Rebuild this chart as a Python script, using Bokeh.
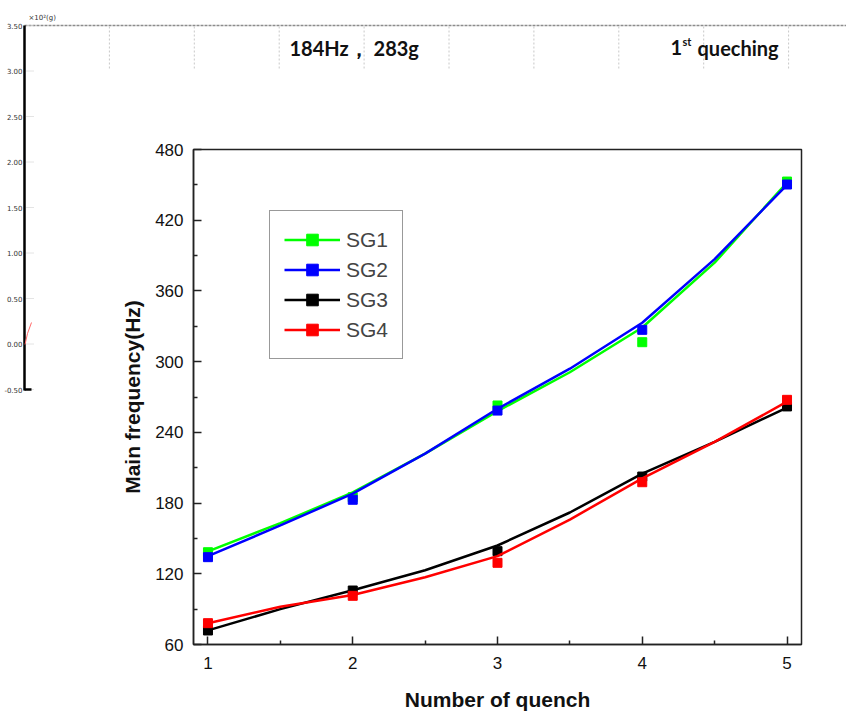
from bokeh.plotting import figure
from bokeh.models import Range1d, Legend, LegendItem, FixedTicker
from bokeh.core.properties import value
from bokeh.embed import file_html
from bokeh.resources import INLINE

# ---------------- data ----------------
quench = [1, 2, 3, 4, 5]
sg1 = [138.3, 185.0, 262.8, 316.5, 452.8]
sg2 = [134.1, 182.8, 258.5, 327.0, 450.3]
sg3 = [71.9, 105.8, 139.2, 202.5, 262.0]
sg4 = [78.1, 101.3, 129.3, 197.7, 267.6]

# fitted curves
quench_fit = [1, 1.5, 2, 2.5, 3, 3.5, 4, 4.5, 5]
sg1_fit = [139, 163, 189, 222, 258, 291, 329, 384, 452]
sg2_fit = [135, 161, 188, 222, 260, 294, 333, 387, 450]
sg3_fit = [72, 90, 106, 123, 144, 172, 205, 232, 261]
sg4_fit = [78, 92, 102, 117, 135, 166, 201, 232, 266]

series_names = ["SG1", "SG2", "SG3", "SG4"]
series_colors = ["#00ff00", "#0000ff", "#000000", "#ff0000"]

x_ticks = [1, 2, 3, 4, 5]
x_minor = [1.5, 2.5, 3.5, 4.5]
y_ticks = [60, 120, 180, 240, 300, 360, 420, 480]
y_minor = [90, 150, 210, 270, 330, 390, 450]

# background (partially visible chart behind the main one)
bg_axis_labels = ["3.50", "3.00", "2.50", "2.00", "1.50", "1.00", "0.50", "0.00", "-0.50"]
bg_unit = "\u00d710\u00b2(g)"
bg_title = "184Hz\uff0c 283g"
bg_note = "queching"

# ---------------- geometry (page pixels) ----------------
W, H = 846, 714
FL, FR, FT, FB = 193, 801, 149, 644
BG_AX_X, BG_TOP, BG_BOT = 24, 25, 389
BG_STEP = (BG_BOT - BG_TOP) / (len(bg_axis_labels) - 1)

# ---- background layer: whole page, pixel coordinates ----
bg = figure(width=W, height=H, x_range=Range1d(0, W), y_range=Range1d(H, 0),
            output_backend="svg", toolbar_location=None,
            x_axis_type=None, y_axis_type=None, min_border=0)
bg.outline_line_color = None
bg.xgrid.visible = False
bg.ygrid.visible = False
bg.background_fill_color = "white"
bg.border_fill_color = "white"

bg.segment(x0=[BG_AX_X], y0=[BG_TOP], x1=[W], y1=[BG_TOP],
           line_color="#8c8c8c", line_width=1.5, line_dash="3 1")
gx = [BG_AX_X + 84.9 * k for k in range(1, 10)]
bg.segment(x0=gx, y0=[BG_TOP + 1] * len(gx), x1=gx, y1=[68] * len(gx),
           line_color="#c8c8c8", line_width=1, line_dash="2 2")
ty = [BG_TOP + BG_STEP * i for i in range(len(bg_axis_labels))]
bg.segment(x0=[BG_AX_X + 2] * len(ty), y0=ty, x1=[BG_AX_X + 9] * len(ty), y1=ty,
           line_color="#c8c8c8", line_width=1, line_dash="1 1")
bg.segment(x0=[BG_AX_X], y0=[BG_TOP], x1=[BG_AX_X], y1=[BG_BOT + 1],
           line_color="#000000", line_width=2.5)
bg.segment(x0=[BG_AX_X], y0=[BG_BOT], x1=[BG_AX_X + 7], y1=[BG_BOT],
           line_color="#000000", line_width=2.5)
bg.line(x=[24.5, 27, 31], y=[344, 333, 322], line_color="#ff6a6a", line_width=1)
bg.text(x=[BG_AX_X - 2] * len(ty), y=ty, text=bg_axis_labels, text_align="right",
        text_baseline="middle", text_font=value("DejaVu Sans"),
        text_font_size="7px", text_color="#333333")
bg.text(x=[28], y=[17], text=[bg_unit], text_baseline="middle",
        text_font=value("DejaVu Sans"), text_font_size="7px", text_color="#333333")
bg.text(x=[289], y=[47], text=[bg_title], text_baseline="middle",
        text_font=value("Lato"), text_font_style="bold", text_font_size="20px",
        text_color="#111111")
bg.text(x=[670], y=[47], text=["1"], text_baseline="middle",
        text_font=value("Lato"), text_font_style="bold", text_font_size="20px",
        text_color="#111111")
bg.text(x=[682], y=[41], text=["st"], text_baseline="middle",
        text_font=value("Lato"), text_font_style="bold", text_font_size="11px",
        text_color="#111111")
bg.text(x=[697], y=[47], text=[bg_note], text_baseline="middle",
        text_font=value("Lato"), text_font_style="bold", text_font_size="20px",
        text_color="#111111")

# ---- main chart, laid over the background ----
p = figure(width=W, height=H,
           x_range=Range1d(0.9, 5.1), y_range=Range1d(60, 480),
           output_backend="svg", toolbar_location=None,
           min_border_left=FL, min_border_right=W - FR,
           min_border_top=FT, min_border_bottom=H - FB,
           styles={"position": "absolute", "left": "0px", "top": "0px"})
p.background_fill_color = "white"
p.border_fill_alpha = 0
p.outline_line_color = "#222222"
p.outline_line_width = 1.5
p.xgrid.visible = False
p.ygrid.visible = False

fits = [sg1_fit, sg2_fit, sg3_fit, sg4_fit]
pts = [sg1, sg2, sg3, sg4]
items = []
for name, col, fy, py_ in zip(series_names, series_colors, fits, pts):
    ln = p.line(quench_fit, fy, line_color=col, line_width=2.5)
    sq = p.scatter(quench, py_, marker="square", size=9, fill_color=col,
                   line_color=col)
    items.append(LegendItem(label=name, renderers=[ln, sq]))

legend = Legend(items=items, location=(76, 285), orientation="vertical",
                glyph_width=56, glyph_height=29, label_height=29,
                label_standoff=6, spacing=1, padding=14, margin=0,
                label_text_font="Liberation Sans", label_text_font_size="21px",
                border_line_color="#333333", border_line_width=1.3,
                background_fill_alpha=1, background_fill_color="white")
p.add_layout(legend, "center")

for ax in (p.xaxis[0], p.yaxis[0]):
    ax.axis_line_width = 1.5
    ax.axis_line_color = "#222222"
    ax.major_tick_in = 8
    ax.major_tick_out = 0
    ax.minor_tick_in = 4
    ax.minor_tick_out = 0
    ax.major_tick_line_width = 1.5
    ax.minor_tick_line_width = 1.5
    ax.major_tick_line_color = "#222222"
    ax.minor_tick_line_color = "#222222"
    ax.major_label_text_font = "Liberation Sans"
    ax.major_label_text_font_size = "17px"
    ax.major_label_text_color = "#111111"
    ax.axis_label_text_font = "Liberation Sans"
    ax.axis_label_text_font_style = "bold"
    ax.axis_label_text_font_size = "21px"
    ax.axis_label_text_color = "#111111"

p.xaxis[0].ticker = FixedTicker(ticks=x_ticks, minor_ticks=x_minor)
p.yaxis[0].ticker = FixedTicker(ticks=y_ticks, minor_ticks=y_minor)
p.xaxis[0].axis_label = "Number of quench"
p.yaxis[0].axis_label = "Main frequency(Hz)"
p.xaxis[0].major_label_standoff = 12
p.yaxis[0].major_label_standoff = 10
p.xaxis[0].axis_label_standoff = 16
p.yaxis[0].axis_label_standoff = 8

open("out.html", "w").write(file_html([bg, p], INLINE))
